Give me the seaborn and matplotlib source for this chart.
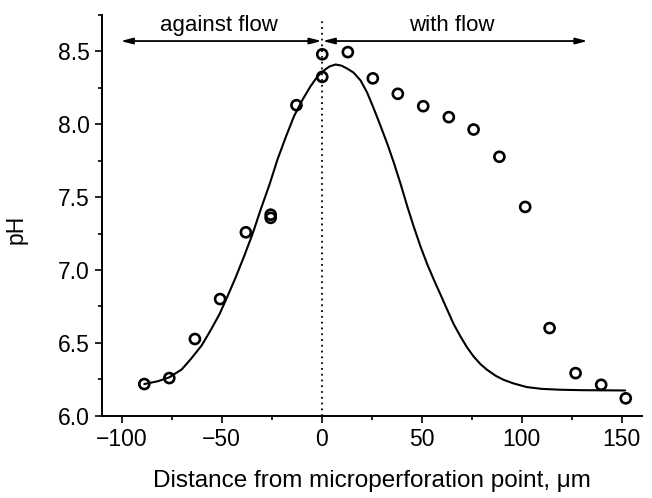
import matplotlib
matplotlib.use("Agg")
import matplotlib.pyplot as plt
import seaborn as sns
import numpy as np
from matplotlib.ticker import MultipleLocator, FormatStrFormatter

# measured points (open circles)
pts_x = [-88.7, -76.2, -63.4, -50.8, -37.9, -25.5, -25.5, -12.6, 0.3, 0.3,
         13.1, 25.6, 38.1, 50.8, 63.6, 76.0, 88.9, 101.8, 114.0, 127.0, 139.8, 152.1]
pts_y = [6.218, 6.259, 6.527, 6.801, 7.259, 7.38, 7.358, 8.131, 8.325, 8.48,
         8.495, 8.315, 8.209, 8.124, 8.049, 7.964, 7.777, 7.433, 6.602, 6.293, 6.213, 6.12]

# fitted curve
curve_x = [-88.7, -82, -76.2, -70, -65.4, -60, -55.4, -51, -47.1, -43, -38.8, -34.5,
           -30.5, -26, -22.1, -18, -13.8, -9.5, -5.5, -2, 1.2, 4, 7, 10, 13, 16,
           19.5, 22.8, 26, 29.5, 33, 36.1, 39.5, 42.8, 46, 49.4, 52.8, 56.1, 59.5,
           62.8, 66, 69.4, 72.7, 76, 79.4, 82.7, 87, 91, 96, 102.7, 110, 119.3,
           130, 140, 151.8]
curve_y = [6.218, 6.237, 6.264, 6.318, 6.39, 6.483, 6.59, 6.70, 6.819, 6.95, 7.094, 7.25,
           7.415, 7.59, 7.758, 7.91, 8.056, 8.17, 8.262, 8.33, 8.37, 8.397, 8.41, 8.402,
           8.38, 8.354, 8.30, 8.216, 8.11, 7.987, 7.86, 7.736, 7.59, 7.438, 7.30, 7.163,
           7.04, 6.934, 6.83, 6.728, 6.63, 6.545, 6.47, 6.407, 6.355, 6.316, 6.275,
           6.247, 6.222, 6.197, 6.185, 6.179, 6.176, 6.175, 6.174]

x_ticks = [-100, -50, 0, 50, 100, 150]
y_ticks = [6.0, 6.5, 7.0, 7.5, 8.0, 8.5]
region_labels = ["against flow", "with flow"]

sns.set_style("ticks", {"axes.edgecolor": "black", "text.color": "black",
                        "xtick.color": "black", "ytick.color": "black",
                        "axes.labelcolor": "black"})
plt.rcParams['font.family'] = ['Liberation Sans', 'DejaVu Sans']

fig = plt.figure(figsize=(6.52, 4.98), dpi=100)
ax = fig.add_axes([0.156, 0.165, 0.828, 0.805])

sns.lineplot(x=curve_x, y=curve_y, ax=ax, color='black', linewidth=1.5, sort=False)
sns.scatterplot(x=pts_x, y=pts_y, ax=ax, marker='o', s=52, facecolor='none',
                edgecolor='black', linewidth=1.9, zorder=3)

ax.axvline(0, color='black', linestyle=(0, (1, 2.2)), linewidth=1.3, ymax=0.99)

ax.set_xlim(-110, 160)
ax.set_ylim(6.0, 8.75)
ax.set_xticks(x_ticks)
ax.set_yticks(y_ticks)
ax.xaxis.set_minor_locator(MultipleLocator(25))
ax.yaxis.set_minor_locator(MultipleLocator(0.25))
ax.yaxis.set_major_formatter(FormatStrFormatter('%.1f'))

sns.despine(ax=ax)
for s in ['left', 'bottom']:
    ax.spines[s].set_linewidth(1.4)
    ax.spines[s].set_color('black')
ax.tick_params(which='major', length=5, width=1.2, labelsize=16.5, direction='out',
               colors='black')
ax.tick_params(which='minor', length=3, width=1.2, direction='out', colors='black')

ax.set_xlabel("Distance from microperforation point, μm", fontsize=17.5, labelpad=14,
              color='black')
ax.set_ylabel("pH", fontsize=16.5, color='black')
ax.yaxis.set_label_coords(-0.138, 0.466)

arrow_kw = dict(arrowstyle='<|-|>,head_length=0.7,head_width=0.18', color='black',
                lw=1.3, shrinkA=0, shrinkB=0)
ax.annotate("", xy=(-100.5, 8.571), xytext=(0, 8.571), arrowprops=arrow_kw)
ax.annotate("", xy=(0.5, 8.571), xytext=(133, 8.571), arrowprops=arrow_kw)
ax.text(-51.4, 8.675, region_labels[0], ha='center', va='center', fontsize=16,
        color='black')
ax.text(65.2, 8.675, region_labels[1], ha='center', va='center', fontsize=16,
        color='black')

fig.savefig("out.png", dpi=100)
